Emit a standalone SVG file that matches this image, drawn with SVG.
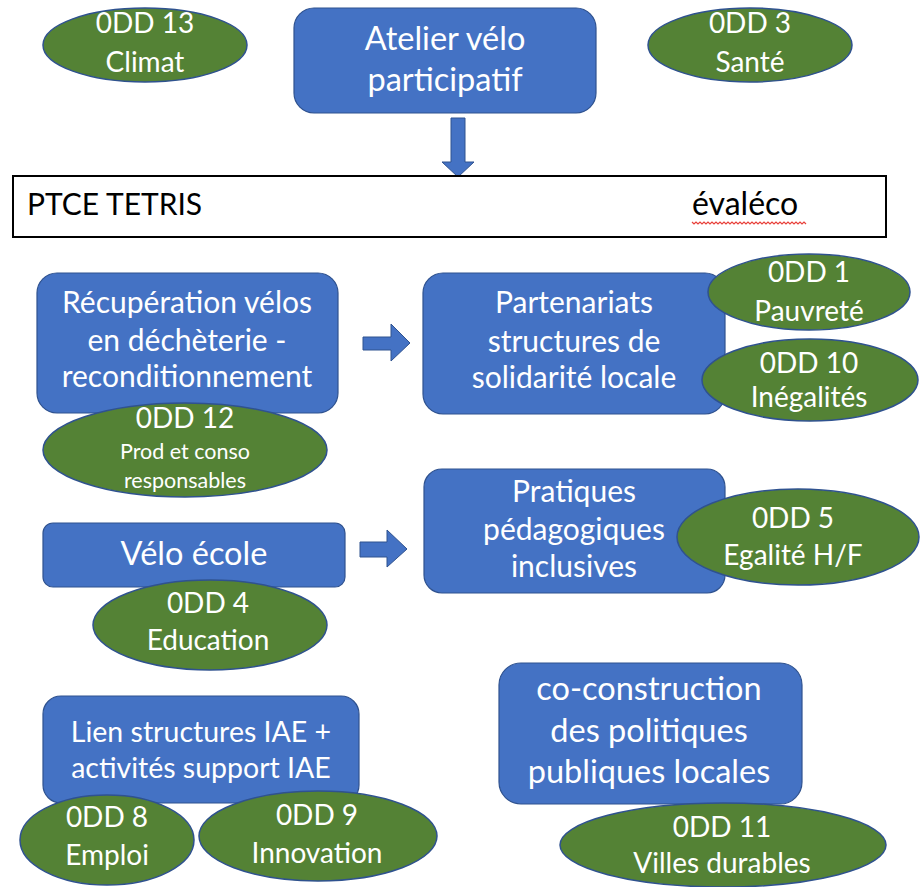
<svg xmlns="http://www.w3.org/2000/svg" width="920" height="887" viewBox="0 0 920 887">
<style>
  .box { fill: #4472C4; stroke: #2F528F; stroke-width: 1.2; }
  .odd { fill: #548235; stroke: #2F528F; stroke-width: 1.5; }
  .arrow { fill: #4472C4; stroke: #2F528F; stroke-width: 1; }
  text { font-family: Lato, "Liberation Sans", sans-serif; text-anchor: middle; fill: #ffffff; }
  .t-odd { font-size: 28px; }
  .t-box { font-size: 30px; }
  .t-lien { font-size: 28.5px; }
  .t-big { font-size: 32.5px; }
  .t-small { font-size: 21.5px; }
  .t-dark { fill: #000000; text-anchor: start; }
</style>
<rect width="920" height="887" fill="#ffffff"/>

<g id="connectors">
  <polygon class="arrow" points="451,118 465,118 465,162 474,162 458,177 442,162 451,162"/>
  <polygon class="arrow" points="363,337 391,337 391,324 410,343 391,361 391,350 363,350"/>
  <polygon class="arrow" points="360,542 387,542 387,530 407,549 387,567 387,557 360,557"/>
</g>

<g id="odd13">
  <ellipse class="odd" cx="145" cy="45" rx="102" ry="37"/>
  <text class="t-odd" x="145" y="33">0DD 13</text>
  <text class="t-odd" x="145" y="72">Climat</text>
</g>

<g id="atelier">
  <rect class="box" x="294" y="8" width="302" height="105" rx="20"/>
  <text class="t-big" x="445" y="50">Atelier vélo</text>
  <text class="t-big" x="445" y="91">participatif</text>
</g>

<g id="odd3">
  <ellipse class="odd" cx="750" cy="45" rx="102" ry="37"/>
  <text class="t-odd" x="750" y="33">0DD 3</text>
  <text class="t-odd" x="750" y="72">Santé</text>
</g>

<g id="ptce">
  <rect x="13" y="176" width="873" height="61" fill="#ffffff" stroke="#000000" stroke-width="2"/>
  <text class="t-dark" x="27" y="215" font-size="30">PTCE TETRIS</text>
  <text class="t-dark" x="692" y="215" font-size="32">évaléco</text>
  <path d="M692,222 l2,2 l2,-2 l2,2 l2,-2 l2,2 l2,-2 l2,2 l2,-2 l2,2 l2,-2 l2,2 l2,-2 l2,2 l2,-2 l2,2 l2,-2 l2,2 l2,-2 l2,2 l2,-2 l2,2 l2,-2 l2,2 l2,-2 l2,2 l2,-2 l2,2 l2,-2 l2,2 l2,-2 l2,2 l2,-2 l2,2 l2,-2 l2,2 l2,-2 l2,2 l2,-2 l2,2 l2,-2 l2,2 l2,-2 l2,2 l2,-2 l2,2 l2,-2 l2,2 l2,-2 l2,2 l2,-2 l2,2 l2,-2 l2,2 l2,-2 l2,2 l2,-2 l2,2" fill="none" stroke="#E8403A" stroke-width="1.2"/>
</g>

<g id="recuperation">
  <rect class="box" x="37" y="273" width="301" height="140" rx="20"/>
  <text class="t-box" x="187" y="313">Récupération vélos</text>
  <text class="t-box" x="187" y="351">en déchèterie -</text>
  <text class="t-box" x="187" y="387">reconditionnement</text>
</g>

<g id="odd12">
  <ellipse class="odd" cx="185" cy="450" rx="142" ry="47"/>
  <text class="t-odd" x="185" y="428">0DD 12</text>
  <text class="t-small" x="185" y="459">Prod et conso</text>
  <text class="t-small" x="185" y="488">responsables</text>
</g>

<g id="partenariats">
  <rect class="box" x="423" y="273" width="302" height="141" rx="20"/>
  <text class="t-box" x="574" y="313">Partenariats</text>
  <text class="t-box" x="574" y="352">structures de</text>
  <text class="t-box" x="574" y="388">solidarité locale</text>
</g>

<g id="odd1">
  <ellipse class="odd" cx="809" cy="292" rx="101" ry="38"/>
  <text class="t-odd" x="809" y="282">0DD 1</text>
  <text class="t-odd" x="809" y="321">Pauvreté</text>
</g>

<g id="odd10">
  <ellipse class="odd" cx="810" cy="380" rx="108" ry="41"/>
  <text class="t-odd" x="809" y="373">0DD 10</text>
  <text class="t-odd" x="809" y="407">Inégalités</text>
</g>

<g id="velo-ecole">
  <rect class="box" x="43" y="523" width="302" height="64" rx="10"/>
  <text class="t-big" x="194" y="565">Vélo école</text>
</g>

<g id="odd4">
  <ellipse class="odd" cx="210" cy="625" rx="117" ry="45"/>
  <text class="t-odd" x="208" y="613">0DD 4</text>
  <text class="t-odd" x="208" y="650">Education</text>
</g>

<g id="pratiques">
  <rect class="box" x="424" y="469" width="301" height="124" rx="18"/>
  <text class="t-box" x="574" y="502">Pratiques</text>
  <text class="t-box" x="574" y="540">pédagogiques</text>
  <text class="t-box" x="574" y="577">inclusives</text>
</g>

<g id="odd5">
  <ellipse class="odd" cx="798" cy="537" rx="121" ry="48"/>
  <text class="t-odd" x="793" y="528">0DD 5</text>
  <text class="t-odd" x="793" y="565">Egalité H/F</text>
</g>

<g id="lien-iae">
  <rect class="box" x="43" y="696" width="316" height="107" rx="18"/>
  <text class="t-lien" x="201" y="742">Lien structures IAE +</text>
  <text class="t-lien" x="201" y="778">activités support IAE</text>
</g>

<g id="odd8">
  <ellipse class="odd" cx="107" cy="840" rx="87" ry="45"/>
  <text class="t-odd" x="107" y="827">0DD 8</text>
  <text class="t-odd" x="107" y="865">Emploi</text>
</g>

<g id="odd9">
  <ellipse class="odd" cx="318" cy="836" rx="119" ry="45"/>
  <text class="t-odd" x="317" y="825">0DD 9</text>
  <text class="t-odd" x="317" y="863">Innovation</text>
</g>

<g id="co-construction">
  <rect class="box" x="499" y="663" width="303" height="141" rx="22"/>
  <text class="t-big" x="649" y="700">co-construction</text>
  <text class="t-big" x="649" y="742">des politiques</text>
  <text class="t-big" x="649" y="783">publiques locales</text>
</g>

<g id="odd11">
  <ellipse class="odd" cx="723" cy="845" rx="163" ry="42"/>
  <text class="t-odd" x="722" y="837">0DD 11</text>
  <text class="t-odd" x="722" y="873">Villes durables</text>
</g>
</svg>
